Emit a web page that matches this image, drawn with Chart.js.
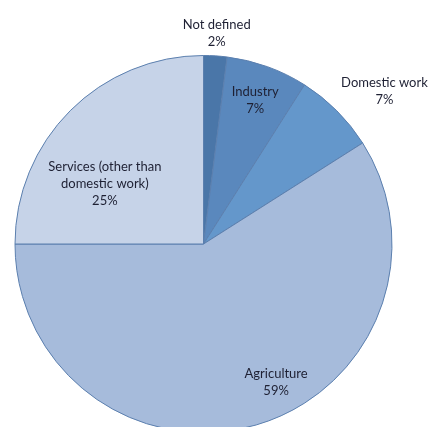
<!DOCTYPE html>
<html>
<head>
<meta charset="utf-8">
<script src="https://cdn.jsdelivr.net/npm/chart.js@4.4.1/dist/chart.umd.min.js"></script>
<style>
  html, body { margin: 0; padding: 0; background: #fff; overflow: hidden; }
  #wrap { width: 430px; height: 440px; position: relative; }
</style>
</head>
<body>
<div id="wrap"><canvas id="pie"></canvas></div>
<script>
const categories = ['Not defined', 'Industry', 'Domestic work', 'Agriculture', 'Services (other than domestic work)'];
const values = [2, 7, 7, 59, 25];
// Etiquetas en varias líneas, como en la imagen
const labelLines = [
    ['Not defined'],
    ['Industry'],
    ['Domestic work'],
    ['Agriculture'],
    ['Services (other than', 'domestic work)']
];
const colors = ['#4a76a8', '#5a88bd', '#6497cb', '#a6bbdb', '#c6d3e8'];

// Posición de cada etiqueta: fracción del radio y ajuste fino en px
const labelPlace = [
    { r: 1.12, dx: 0, dy: 0 },
    { r: 0.81, dx: 0, dy: 0 },
    { r: 1.26, dx: 13, dy: 15 },
    { r: 0.81, dx: 30, dy: -8 },
    { r: 0.62, dx: -16, dy: 22 }
];

// Plugin para dibujar etiquetas con nombre y porcentaje
const pieLabels = {
    id: 'pieLabels',
    afterDatasetsDraw(chart) {
        const ctx = chart.ctx;
        const meta = chart.getDatasetMeta(0);
        const total = values.reduce((a, b) => a + b, 0);
        ctx.save();
        ctx.font = '13px Lato';
        ctx.fillStyle = '#1e2033';
        ctx.textAlign = 'center';
        ctx.textBaseline = 'middle';
        meta.data.forEach((arc, i) => {
            const p = arc.getProps(['x', 'y', 'startAngle', 'endAngle', 'outerRadius'], true);
            const mid = (p.startAngle + p.endAngle) / 2;
            const rr = p.outerRadius * labelPlace[i].r;
            const cx = p.x + Math.cos(mid) * rr + labelPlace[i].dx;
            const cy = p.y + Math.sin(mid) * rr + labelPlace[i].dy;
            const lines = labelLines[i].concat([Math.round(values[i] / total * 100) + '%']);
            const lh = 17;
            const y0 = cy - (lines.length - 1) * lh / 2;
            lines.forEach((t, k) => ctx.fillText(t, cx, y0 + k * lh));
        });
        ctx.restore();
    }
};

new Chart(document.getElementById('pie'), {
    type: 'pie',
    data: {
        labels: categories,
        datasets: [{
            data: values,
            backgroundColor: colors,
            borderColor: '#5b7fae',
            borderWidth: 1
        }]
    },
    options: {
        responsive: true,
        maintainAspectRatio: false,
        animation: false,
        layout: {
            padding: { left: 14.5, right: 37.5, top: 55, bottom: 7 }
        },
        plugins: {
            legend: { display: false },
            tooltip: { enabled: false }
        }
    },
    plugins: [pieLabels]
});
</script>
</body>
</html>
